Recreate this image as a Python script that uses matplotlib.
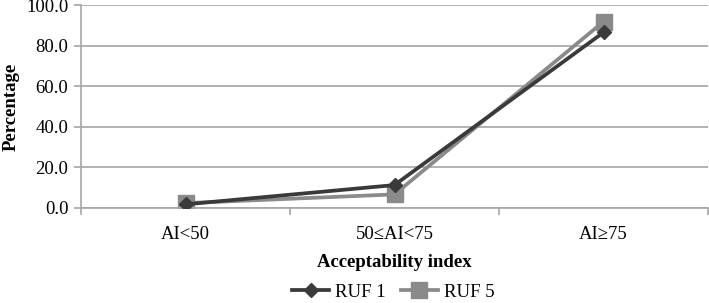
import matplotlib
matplotlib.use("Agg")
import matplotlib.pyplot as plt
from matplotlib.ticker import FixedLocator, FixedFormatter

categories = ["AI<50", "50≤AI<75", "AI≥75"]
ruf1 = [1.8, 11.3, 86.5]
ruf5 = [2.4, 6.7, 91.8]
yticks = [0, 20, 40, 60, 80, 100]

plt.rcParams['font.family'] = ['Liberation Serif', 'DejaVu Serif']
plt.rcParams['font.size'] = 13.5

fig = plt.figure(figsize=(7.09, 3.03), dpi=100)
ax = fig.add_axes([81/709, 1-208/303, 627/709, 203/303])

x = list(range(len(categories)))
ax.plot(x, ruf1, color='#3a3a3a', lw=2.7, marker='D', ms=7.5, label='RUF 1', zorder=3)
ax.plot(x, ruf5, color='#8a8a8a', lw=2.7, marker='s', ms=11, label='RUF 5', zorder=2)

ax.set_xlim(-0.5, len(categories)-0.5)
ax.set_ylim(0, 100)
ax.set_yticks(yticks)
ax.set_yticklabels([f"{v:.1f}" for v in yticks])
ax.yaxis.grid(True, color='#a6a6a6', lw=1.2)
ax.set_axisbelow(True)

ax.xaxis.set_major_locator(FixedLocator([i-0.5 for i in range(len(categories)+1)]))
ax.xaxis.set_major_formatter(FixedFormatter([""]*(len(categories)+1)))
ax.xaxis.set_minor_locator(FixedLocator(x))
ax.xaxis.set_minor_formatter(FixedFormatter(categories))
ax.tick_params(axis='x', which='major', direction='out', length=5, color='#a6a6a6', width=1.2)
ax.tick_params(axis='x', which='minor', length=0, pad=13, labelsize=13.5)
ax.tick_params(axis='y', direction='out', length=5, color='#a6a6a6', width=1.2, pad=4, labelsize=13.5)

for s in ['top', 'right']:
    ax.spines[s].set_visible(False)
for s in ['left', 'bottom']:
    ax.spines[s].set_color('#a6a6a6')
    ax.spines[s].set_linewidth(1.2)

ax.set_xlabel("Acceptability index", fontweight='bold', labelpad=8)
ax.set_ylabel("Percentage", fontweight='bold', labelpad=5)

fig.legend(loc='center', bbox_to_anchor=(393/709, 1-292/303), ncol=2, frameon=False,
           handlelength=2.0, handletextpad=0.3, columnspacing=0.8, fontsize=13.5,
           borderpad=0.2)

fig.savefig("out.png", dpi=100)
